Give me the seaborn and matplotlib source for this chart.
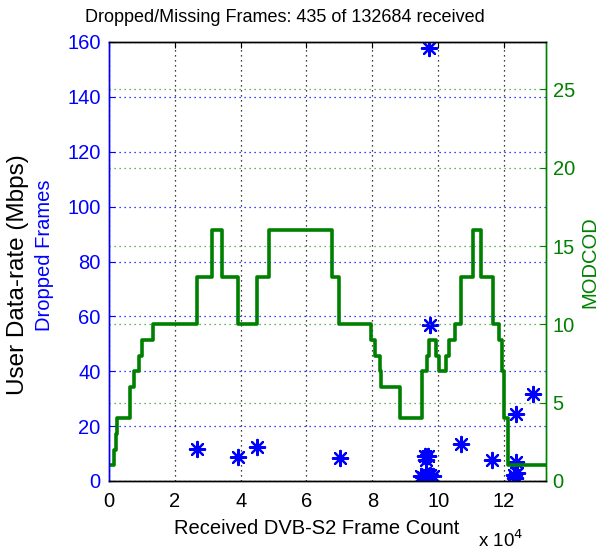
import matplotlib
matplotlib.use("Agg")
import matplotlib.pyplot as plt
import numpy as np
import pandas as pd
import seaborn as sns
from matplotlib.ticker import FuncFormatter

# MODCOD in use over the received frame count (value holds until next change)
frame_idx = [0, 1522, 2040, 2527, 6392, 7700, 9223, 9954, 13302, 26697,
             31262, 34306, 39055, 44960, 48704, 67790, 69800, 79662, 80971,
             82280, 82706, 88368, 94973, 96495, 97195, 99234, 100239, 102430,
             103343, 105022, 106848, 110592, 113150, 116680, 118507, 119330,
             120030, 121370, 132684]
modcod = [1, 2, 3, 4, 6, 7, 8, 9, 10, 13,
          16, 13, 10, 13, 16, 13, 10, 9, 8,
          7, 6, 4, 7, 8, 9, 8, 7, 8,
          9, 10, 13, 16, 13, 10, 9, 7,
          4, 1, 1]

# Dropped frame events (frame count, number of frames dropped)
drop_x = [26700, 39200, 45000, 70100, 97200, 97500, 95900, 96800, 96300,
          94800, 95500, 96200, 96900, 97600, 98300, 106800, 116500, 123600,
          128700, 123600, 123000, 123500, 123900]
drop_y = [11.5, 8.6, 12.3, 8.5, 157.7, 57.0, 9.2, 9.0, 7.5,
          2.0, 1.5, 2.5, 1.8, 2.2, 1.7, 13.5, 7.7, 24.4,
          31.6, 6.8, 2.3, 1.2, 3.0]

total_frames = 132684
dropped_total = 435

x_ticks = [0, 20000, 40000, 60000, 80000, 100000, 120000]
left_ticks = [0, 20, 40, 60, 80, 100, 120, 140, 160]
right_ticks = [0, 5, 10, 15, 20, 25]

sns.set_style("white")
plt.rcParams["font.family"] = ["Liberation Sans", "DejaVu Sans"]

BLUE = (0, 0, 1)
GREEN = (0, 0.5, 0)
DOT = (0, (1, 3))
FS = 14.5
FS_TITLE = 13
FS_RATE = 17.5

fig = plt.figure(figsize=(6.06, 5.5), dpi=100)
W, H = 606, 550
x0, x1, y0, y1 = 109, 545.7, 42, 481
ax = fig.add_axes([x0 / W, 1 - y1 / H, (x1 - x0) / W, (y1 - y0) / H])
ax2 = ax.twinx()

drops = pd.DataFrame({"frame": drop_x, "dropped": drop_y})
mod = pd.DataFrame({"frame": frame_idx, "modcod": modcod})

sns.scatterplot(data=drops, x="frame", y="dropped", ax=ax, marker=(8, 2, 0),
                s=120, color=BLUE, linewidth=1.6, legend=False, zorder=3)
sns.lineplot(data=mod, x="frame", y="modcod", ax=ax2, estimator=None,
             sort=False, drawstyle="steps-post", color=GREEN, linewidth=2.6,
             legend=False)

ax.set_xlim(0, total_frames)
ax.set_ylim(0, 160)
ax2.set_ylim(0, 28.03)

ax.set_xticks(x_ticks)
ax.xaxis.set_major_formatter(FuncFormatter(lambda v, p: f"{v / 1e4:g}"))
ax.set_yticks(left_ticks)
ax2.set_yticks(right_ticks)

ax.grid(axis="x", color="black", linestyle=DOT, linewidth=0.9)
ax.grid(axis="y", color=BLUE, linestyle=DOT, linewidth=0.9)
ax2.grid(axis="y", color=(0.2, 0.6, 0.2), linestyle=DOT, linewidth=0.9)
ax.set_axisbelow(True)

ax.tick_params(axis="x", direction="in", length=4, top=True, labelsize=FS,
               pad=8, colors="black")
ax.tick_params(axis="y", direction="in", length=4, labelsize=FS, pad=6,
               colors=BLUE)
ax2.tick_params(axis="y", direction="in", length=4, labelsize=FS, pad=5,
                colors=GREEN)

for a in (ax, ax2):
    a.spines["top"].set_color("black")
    a.spines["bottom"].set_color("black")
    a.spines["left"].set_color(BLUE)
    a.spines["right"].set_color(GREEN)
    for s in a.spines.values():
        s.set_linewidth(1.0)

ax.set_xlabel("")
ax.set_ylabel("")
ax2.set_ylabel("")

fig.text(285 / W, 1 - 17 / H,
         f"Dropped/Missing Frames: {dropped_total} of {total_frames} received",
         ha="center", va="center", fontsize=FS_TITLE, color="black")
fig.text(317 / W, 1 - 528 / H, "Received DVB-S2 Frame Count",
         ha="center", va="center", fontsize=FS, color="black")
fig.text(478 / W, 1 - 540 / H, r"x 10$^{4}$", ha="left", va="center",
         fontsize=FS - 1, color="black")
fig.text(18 / W, 1 - 275 / H, "User Data-rate (Mbps)", rotation=90,
         ha="center", va="center", fontsize=FS_RATE, color="black")
fig.text(45 / W, 1 - 255 / H, "Dropped Frames", rotation=90,
         ha="center", va="center", fontsize=FS, color=BLUE)
fig.text(590 / W, 1 - 262 / H, "MODCOD", rotation=90,
         ha="center", va="center", fontsize=FS, color=GREEN)

fig.savefig("out.png", dpi=100, facecolor="white")
